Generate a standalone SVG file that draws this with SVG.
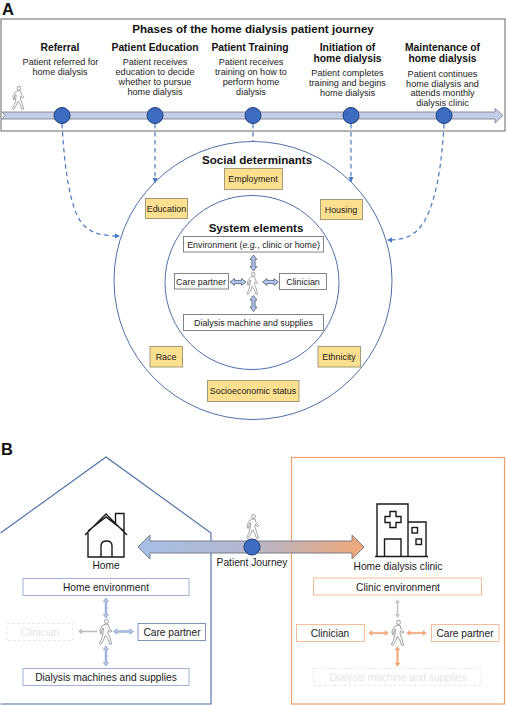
<svg xmlns="http://www.w3.org/2000/svg" width="506" height="705" viewBox="0 0 506 705">
<style>
text{font-family:"Liberation Sans",Arial,sans-serif;fill:#1a1a1a;text-anchor:middle}
.h{font-weight:bold;font-size:10.3px;fill:#111}
.d{font-size:9.1px;fill:#222}
.t{font-weight:bold;font-size:11.6px;fill:#111}
.big{font-weight:bold;font-size:16.5px;fill:#111;text-anchor:start}
.s{font-size:8.9px}
.l{font-size:10.2px}
.y{fill:#fddf90;stroke:#a39a78;stroke-width:1}
.w{fill:#fff;stroke:#77777f;stroke-width:.9}
.dash{fill:none;stroke:#4a78c4;stroke-width:1.2;stroke-dasharray:4.5 3.5}
.dot{fill:#3e6cc0;stroke:#1e3f78;stroke-width:1}
.ring{fill:none;stroke:#4f6fa8;stroke-width:1}
.bl{fill:#fff;stroke:#9fb4d8;stroke-width:1}
.or{fill:#fff;stroke:#f2bd98;stroke-width:1}
.gh{fill:#fff;stroke:#e2e2e2;stroke-width:.8;stroke-dasharray:3 2}
.ic{fill:none;stroke:#1a1a1a;stroke-width:1.4}
.wk{fill:#fff;stroke:#777;stroke-width:.7;stroke-linejoin:round}
</style>
<defs>
<linearGradient id="jg" x1="0" x2="1" y1="0" y2="0">
<stop offset="0" stop-color="#a6bfe6"/><stop offset=".5" stop-color="#b3b6cc"/><stop offset="1" stop-color="#f2a877"/>
</linearGradient>
<marker id="m" viewBox="0 0 6 6" refX="5" refY="3" markerWidth="5" markerHeight="5" orient="auto-start-reverse"><path d="M0 .5L5 3L0 5.5z" fill="#4a78c4"/></marker>
<symbol id="walker" viewBox="0 0 14 26" overflow="visible">
<circle class="wk" cx="7.500" cy="2.400" r="2"/>
<path class="wk" d="M6 5.200L9 5.200L10.400 9.600L13 12.200L12 13.200L9.400 11L9 14L11 19L12.600 25L10.800 25.400L8.600 19.600L6.400 16.400L4.400 21.400L1.600 25.600L.4 24.600L2.600 20L4 14.600L4.400 9L2.600 11.600L2.800 14.600L1.400 14.800L1 11L3.400 6.800z"/>
</symbol>
<path id="ah" d="M-8 0L-3.500 -3.400L-3.500 -1.600L3.500 -1.600L3.500 -3.400L8 0L3.500 3.400L3.500 1.600L-3.500 1.600L-3.500 3.400z"/>
<path id="sa" d="M-10 0L-6.500 -2.600L-6.500 -.8L6.500 -.8L6.500 -2.600L10 0L6.500 2.600L6.500 .8L-6.500 .8L-6.500 2.600z"/>
</defs>
<rect width="506" height="705" fill="#fff"/>

<text class="big" x="2" y="15">A</text>
<text class="big" x="1" y="455">B</text>

<g id="panel-a-frame"><rect x="1" y="19" width="504" height="112" fill="#fff" stroke="#666" stroke-width="1"/></g>
<g id="home-panel"><path d="M.5 533L106 457L211 533L211 704L.5 704" fill="#fff" stroke="#4a6ba6" stroke-width="1.100"/></g>
<g id="clinic-panel"><rect x="291.500" y="457.500" width="213" height="246.500" fill="#fff" stroke="#ee9f6a" stroke-width="1.200"/></g>

<g id="timeline"><path d="M2 112L495 112L495 108.500L503 115.500L495 123L495 119L2 119L5 115.500z" fill="#c3cde6" stroke="#7f8494" stroke-width=".9"/></g>

<g id="connectors">
<path class="dash" marker-end="url(#m)" d="M62 124C64 160 68 195 77 215C85 232 98 236 120 236"/>
<path class="dash" marker-end="url(#m)" d="M155 124L155 183"/>
<path class="dash" d="M253 124L253 142"/>
<path class="dash" marker-end="url(#m)" d="M351 124L351 182"/>
<path class="dash" marker-end="url(#m)" d="M444 124C442 165 436 200 425 220C416 236 405 240 387 240"/>
<g fill="#b4c5e4" stroke="#3a4a72" stroke-width=".7">
<use href="#ah" transform="translate(253.500 263) rotate(90)"/>
<use href="#ah" transform="translate(253.500 303.500) rotate(90)"/>
<use href="#ah" transform="translate(238 282)"/>
<use href="#ah" transform="translate(270.500 282)"/>
</g>
<g fill="#b9c9e6" stroke="#6f8fc4" stroke-width=".6">
<use href="#sa" transform="translate(106 608) rotate(90)"/>
<use href="#sa" transform="translate(106 656) rotate(90)"/>
<use href="#sa" transform="translate(123.500 631.500)"/>
</g>
<path d="M78 631.500L82 628.800L82 630.700L97 630.700L97 632.300L82 632.300L82 634.200z" fill="#bcbcbc"/>
<path d="M397.500 599L400 603L398.300 603L398.300 614L400 614L397.500 618L395 614L396.700 614L396.700 603L395 603z" fill="#c4c4c4"/>
<g fill="#f0a878" stroke="#ec9a66" stroke-width=".3">
<use href="#sa" transform="translate(378.500 633)"/>
<use href="#sa" transform="translate(416.500 633)"/>
<use href="#sa" transform="translate(397.500 656.500) rotate(90)"/>
</g>
</g>

<g id="phase-dots">
<circle class="dot" cx="62" cy="115.500" r="8"/>
<circle class="dot" cx="155" cy="115.500" r="8"/>
<circle class="dot" cx="253" cy="115.500" r="8"/>
<circle class="dot" cx="351" cy="115.500" r="8"/>
<circle class="dot" cx="444" cy="115.500" r="8"/>
</g>

<g id="phases-text">
<text class="t" x="253" y="33">Phases of the home dialysis patient journey</text>
<g id="phase-referral"><text class="h" x="60" y="51">Referral</text><text class="d" x="60.500" y="65">Patient referred for</text><text class="d" x="60" y="75">home dialysis</text></g>
<g id="phase-education"><text class="h" x="155" y="51">Patient Education</text><text class="d" x="155" y="65">Patient receives</text><text class="d" x="155" y="75">education to decide</text><text class="d" x="155" y="85">whether to pursue</text><text class="d" x="155" y="95">home dialysis</text></g>
<g id="phase-training"><text class="h" x="250" y="51">Patient Training</text><text class="d" x="251" y="65">Patient receives</text><text class="d" x="251" y="75">training on how to</text><text class="d" x="251" y="85">perform home</text><text class="d" x="251" y="95">dialysis</text></g>
<g id="phase-initiation"><text class="h" x="347.500" y="51">Initiation of</text><text class="h" x="347.500" y="62">home dialysis</text><text class="d" x="347.500" y="76">Patient completes</text><text class="d" x="347.500" y="86">training and begins</text><text class="d" x="347.500" y="96">home dialysis</text></g>
<g id="phase-maintenance"><text class="h" x="442.500" y="51">Maintenance of</text><text class="h" x="442.500" y="62">home dialysis</text><text class="d" x="442.500" y="76.500">Patient continues</text><text class="d" x="442.500" y="86.500">home dialysis and</text><text class="d" x="442.500" y="96">attends monthly</text><text class="d" x="442.500" y="106">dialysis clinic</text></g>
</g>
<use href="#walker" x="11.500" y="86" width="14" height="24"/>

<g id="social-determinants">
<circle class="ring" cx="253" cy="280.500" r="139"/>
<text class="t" x="257" y="164">Social determinants</text>
</g>
<g id="employment"><rect class="y" x="224.500" y="168.500" width="58" height="21"/><text class="s" x="253" y="182">Employment</text></g>
<g id="education"><rect class="y" x="145.500" y="198.500" width="42" height="20"/><text class="s" x="166.500" y="212">Education</text></g>
<g id="housing"><rect class="y" x="320.500" y="199.500" width="42" height="20"/><text class="s" x="341" y="212.500">Housing</text></g>
<g id="race"><rect class="y" x="150" y="346.500" width="32.500" height="20.500"/><text class="s" x="166" y="360">Race</text></g>
<g id="ethnicity"><rect class="y" x="318" y="346.500" width="42.500" height="20.500"/><text class="s" x="339" y="360">Ethnicity</text></g>
<g id="socioeconomic"><rect class="y" x="207.500" y="380.500" width="91.500" height="21"/><text class="s" x="253" y="394">Socioeconomic status</text></g>

<g id="system-elements">
<circle class="ring" cx="252" cy="282.500" r="87"/>
<text class="t" x="256" y="232">System elements</text>
</g>
<g id="environment"><rect class="w" x="183.500" y="236.500" width="140" height="15.500"/><text class="s" x="253.500" y="247.500">Environment (<tspan font-style="italic">e.g.</tspan>, clinic or home)</text></g>
<g id="care-partner-a"><rect class="w" x="174.500" y="273.500" width="54" height="15.500"/><text class="s" x="201" y="284.500">Care partner</text></g>
<g id="clinician-a"><rect class="w" x="279.500" y="273.500" width="47" height="16"/><text class="s" x="303" y="284.500">Clinician</text></g>
<g id="dialysis-a"><rect class="w" x="183.500" y="314.500" width="140" height="16"/><text class="s" x="253.500" y="326">Dialysis machine and supplies</text></g>
<use href="#walker" x="246" y="272" width="13.500" height="23"/>

<g id="journey">
<path d="M138 547L150 535L150 541L352 541L352 535L364 547L352 559L352 553L150 553L150 559z" fill="url(#jg)" stroke="#6f7480" stroke-width=".9"/>
<circle class="dot" cx="252" cy="547" r="8"/>
<use href="#walker" x="246" y="514" width="14" height="25"/>
<text class="l" x="252" y="566">Patient Journey</text>
</g>

<g id="home-icon">
<path class="ic" d="M85 535L106 514L127 535M88 531L106 517L124 531M88 533L88 557L124 557L124 530M101 557L101 546Q101 541 106.500 541Q112 541 112 546L112 557M115.500 523L115.500 513.500L124 513.500L124 532"/>
<text class="l" x="106" y="569">Home</text>
</g>
<g id="home-environment"><rect class="bl" x="23" y="578.500" width="166" height="17"/><text class="l" x="106" y="590.500">Home environment</text></g>
<g id="clinician-home"><rect class="gh" x="7" y="623.500" width="66" height="17"/><text class="l" x="40" y="635.500" style="fill:#e4e4e4">Clinician</text></g>
<g id="care-partner-home"><rect x="138" y="623.500" width="67.500" height="17" fill="#fff" stroke="#7f93bb" stroke-width="1"/><text class="l" x="172" y="635.500">Care partner</text></g>
<g id="dialysis-home"><rect class="bl" x="23" y="668.500" width="166" height="17"/><text class="l" x="106" y="680.500">Dialysis machines and supplies</text></g>
<use href="#walker" x="99" y="619" width="14" height="26"/>

<g id="clinic-icon">
<path class="ic" d="M377 556L377 504L408 504L408 556M408 522L426 522L426 556M375 556.500L428 556.500M384.500 556L384.500 539L401 539L401 556M390 511.500L396 511.500L396 516.500L401 516.500L401 522.500L396 522.500L396 527.500L390 527.500L390 522.500L385 522.500L385 516.500L390 516.500z"/>
<rect class="ic" x="412" y="527.500" width="5.500" height="5.500"/><rect class="ic" x="416" y="539" width="5.500" height="5.500"/>
<text class="l" x="398" y="570">Home dialysis clinic</text>
</g>
<g id="clinic-environment"><rect class="or" x="313.500" y="578" width="168" height="17"/><text class="l" x="398" y="590.500">Clinic environment</text></g>
<g id="clinician-clinic"><rect class="or" x="296.500" y="624.500" width="68" height="17"/><text class="l" x="330" y="636.500">Clinician</text></g>
<g id="care-partner-clinic"><rect class="or" x="431.500" y="624.500" width="67.500" height="17"/><text class="l" x="465" y="636.500">Care partner</text></g>
<g id="dialysis-clinic"><rect class="gh" x="313.500" y="668.500" width="168" height="17"/><text class="l" x="398" y="680.500" style="fill:#e4e4e4">Dialysis machine and supplies</text></g>
<use href="#walker" x="391" y="620" width="14" height="26"/>
</svg>
